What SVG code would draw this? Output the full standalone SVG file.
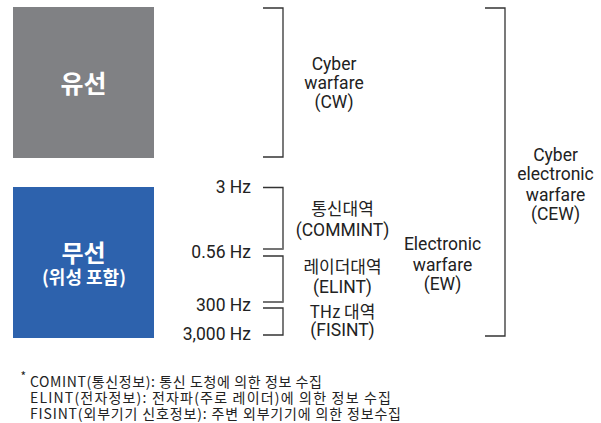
<svg xmlns="http://www.w3.org/2000/svg" width="601" height="423" viewBox="0 0 601 423">
<style>
text{font-family:"Noto Sans CJK KR","Noto Sans",sans-serif;fill:#222}
.t{font-size:17px;text-anchor:middle}
.l{font-family:Roboto,"Noto Sans",sans-serif;font-size:17.5px}
.f{font-family:Roboto,"Noto Sans",sans-serif;font-size:17.5px;text-anchor:end}
.n{font-size:14px}
.w{fill:#fff;font-weight:bold;text-anchor:middle}
.b{fill:none;stroke:#333;stroke-width:1.3}
.g{fill:none;stroke:#777;stroke-width:1.8}
</style>
<rect width="601" height="423" fill="#fff"/>
<g id="wired"><rect x="13" y="7" width="141" height="151" fill="#808184"/><text class="w" x="83.5" y="93" font-size="25">유선</text></g>
<g id="wireless"><rect x="13" y="187" width="141" height="151" fill="#2d62ad"/><text class="w" x="83.5" y="262" font-size="24">무선</text><text class="w" x="84" y="284" font-size="18">(위성 포함)</text></g>
<g id="connectors">
<path class="b" d="M263 8H283V157H263"/>
<path class="b" d="M485 8H505V336H485"/>
<path class="b" d="M263 187.5H283V249H263"/>
<path class="g" d="M263 249H283"/>
<path class="b" d="M263 256H283V302H263"/>
<path class="g" d="M263 302H283"/>
<path class="b" d="M263 308H283V335H263"/>
</g>
<g id="cw"><text class="t l" x="334" y="70">Cyber</text><text class="t l" x="334" y="89">warfare</text><text class="t l" x="334" y="108">(CW)</text></g>
<g id="freq"><text class="f" x="251" y="193">3 Hz</text><text class="f" x="251" y="258">0.56 Hz</text><text class="f" x="251" y="311">300 Hz</text><text class="f" x="251" y="340">3,000 Hz</text></g>
<g id="commint"><text class="t" x="342.5" y="215">통신대역</text><text class="t l" x="342.5" y="236">(COMMINT)</text></g>
<g id="elint"><text class="t" x="342.5" y="273">레이더대역</text><text class="t l" x="342.5" y="293">(ELINT)</text></g>
<g id="fisint"><text class="t" x="342.5" y="318">THz 대역</text><text class="t l" x="342.5" y="336">(FISINT)</text></g>
<g id="ew"><text class="t l" x="442.5" y="250">Electronic</text><text class="t l" x="442.5" y="271">warfare</text><text class="t l" x="442.5" y="290">(EW)</text></g>
<g id="cew"><text class="t l" x="555.5" y="161">Cyber</text><text class="t l" x="555.5" y="180">electronic</text><text class="t l" x="555.5" y="201">warfare</text><text class="t l" x="555.5" y="220">(CEW)</text></g>
<g id="note"><text x="20.5" y="381" font-size="12">*</text><text class="n" x="30" y="387" textLength="292" lengthAdjust="spacing">COMINT(통신정보): 통신 도청에 의한 정보 수집</text><text class="n" x="30" y="403" textLength="361" lengthAdjust="spacing">ELINT(전자정보): 전자파(주로 레이더)에 의한 정보 수집</text><text class="n" x="30" y="419" textLength="371" lengthAdjust="spacing">FISINT(외부기기 신호정보): 주변 외부기기에 의한 정보수집</text></g>
</svg>
